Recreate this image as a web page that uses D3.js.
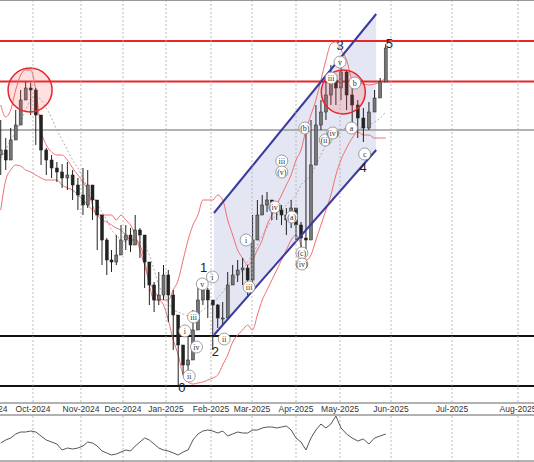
<!DOCTYPE html>
<html><head><meta charset="utf-8">
<script src="https://cdn.jsdelivr.net/npm/d3@7"></script>
<style>body{margin:0;background:#fff}svg{display:block}</style>
</head><body>
<svg id="c" width="534" height="462"></svg>
<script>
// prices sampled every 5px of the chart (~3.4 days), starting Sep 9 2024
const startDate = new Date(2024, 8, 9);
const stepDays = 3.4;
const closes = [250,240,260,275,300,312,310,285,250,240,232,228,222,225,215,205,195,215,200,185,160,140,138,145,160,165,155,170,165,138,115,100,105,125,105,85,55,35,40,70,100,110,100,95,82,82,115,125,130,132,120,160,185,195,200,190,190,185,180,192,175,162,160,235,275,288,305,320,312,328,305,295,282,272,288,302,318,352];
const highs = [280,262,272,290,310,318,317,312,268,252,245,238,236,238,230,222,232,230,215,200,185,162,150,165,175,175,172,185,172,160,135,118,128,135,130,110,80,50,70,90,120,118,112,100,96,98,128,135,140,142,135,185,200,205,208,200,198,195,192,200,190,178,275,280,295,300,320,335,325,335,330,312,300,292,298,310,322,356];
const lows = [225,230,245,262,285,300,285,255,235,225,222,218,212,210,200,190,185,192,180,150,135,125,128,135,148,150,148,155,142,112,95,88,95,100,78,50,15,25,28,55,80,95,82,50,72,75,95,115,118,115,105,110,165,185,188,180,180,175,165,172,160,148,150,180,250,270,280,295,295,300,290,275,262,258,270,290,305,340];
const upperBand = [295,283,290,310,325,330,330,310,270,255,248,245,245,240,232,225,218,210,195,185,185,185,185,180,185,180,175,165,150,135,118,110,102,100,100,110,120,140,160,175,185,200,200,200,205,200,180,165,150,142,135,140,150,160,175,185,195,205,215,225,240,250,270,285,300,320,340,356,358,350,340,320,317,316,315,316,318,322];
const lowerBand = [190,220,230,235,234,230,228,225,222,220,220,220,215,212,210,205,200,195,190,185,180,178,175,172,170,165,160,160,155,140,115,100,100,95,80,60,45,25,18,16,17,18,20,22,25,35,45,58,65,70,75,70,85,100,110,120,130,140,150,160,165,155,140,145,160,175,190,205,225,240,252,262,268,265,265,262,262,262];
const midBand = [242,250,260,268,278,290,300,304,300,292,282,270,260,250,240,232,222,212,205,196,188,180,170,165,160,158,160,160,158,155,145,130,115,105,98,90,88,86,84,84,86,90,94,98,102,108,115,120,125,130,138,145,155,165,172,180,185,190,195,200,205,215,220,225,235,245,255,262,268,270,272,272,272,272,275,278,282,288];
// oscillator, sampled at the same steps (0..44 panel units)
const osc = [17,20,22,26,28,28,29,28,24,20,18,16,10,12,11,12,14,18,17,14,9,7,5,6,8,10,9,14,18,22,20,16,12,10,9,7,5,8,10,20,26,29,30,29,27,29,24,26,28,27,27,30,30,32,33,33,32,33,34,30,22,18,10,22,30,36,32,36,44,32,26,22,19,21,16,22,24,26];

const monthDates = [new Date(2024,8,1),new Date(2024,9,1),new Date(2024,10,1),new Date(2024,11,1),new Date(2025,0,1),new Date(2025,1,1),new Date(2025,2,1),new Date(2025,3,1),new Date(2025,4,1),new Date(2025,5,1),new Date(2025,6,1),new Date(2025,7,1)];
const monthPx = [-11,33,81,123,166,211,252,296,340,391,452,518];
const monthLabels = ["Sep-2024","Oct-2024","Nov-2024","Dec-2024","Jan-2025","Feb-2025","Mar-2025","Apr-2025","May-2025","Jun-2025","Jul-2025","Aug-2025"];

const redLevels = [318.5, 359];
const grayLevel = 270;
const blackLevels = [64, 14];
// channel: [date, price] endpoints
const chanUpper = [[new Date(2025,1,3), 187], [new Date(2025,4,23), 386]];
const chanLower = [[new Date(2025,1,3), 65], [new Date(2025,4,23), 250]];
const circles = [[new Date(2024,8,29), 310], [new Date(2025,4,3), 308]];
const waveBig = [["0",new Date(2025,0,12),8],["1",new Date(2025,0,27),128],["2",new Date(2025,1,4),44],["3",new Date(2025,4,1),350],["4",new Date(2025,4,15),228],["5",new Date(2025,4,31),352]];
const waveSmall = [["i",new Date(2025,0,14),69],["ii",new Date(2025,0,17),24],["iii",new Date(2025,0,20),83],["iv",new Date(2025,0,22),53],["v",new Date(2025,0,26),116],
  ["i",new Date(2025,1,2),123],["ii",new Date(2025,1,10),61],["iii",new Date(2025,1,27),113],["i",new Date(2025,1,25),160],
  ["iii",new Date(2025,2,22),239],["(v)",new Date(2025,2,22),228],["(iv)",new Date(2025,2,17),193],["(a)",new Date(2025,2,29),183],["(b)",new Date(2025,3,7),272],
  ["(c)",new Date(2025,3,5),147],["(iv)",new Date(2025,3,5),136],["(ii)",new Date(2025,3,21),260],["(iv)",new Date(2025,3,26),267],["iii",new Date(2025,3,25),322],["v",new Date(2025,4,1),338],["b",new Date(2025,4,10),317],["a",new Date(2025,4,8),272],["c",new Date(2025,4,16),246]];

const svg = d3.select("#c");
const x = d3.scaleTime().domain(monthDates).range(monthPx);
const y = d3.scaleLinear().domain([0, 400]).range([400, 0]);
const yo = d3.scaleLinear().domain([0, 44]).range([460, 416]);
const dates = closes.map((_, i) => d3.timeHour.offset(startDate, Math.round(i * stepDays * 24)));

svg.append("clipPath").attr("id", "pc").append("rect").attr("x", 0).attr("y", 1).attr("width", 534).attr("height", 402);
const g = svg.append("g").attr("clip-path", "url(#pc)");

// grid
monthDates.forEach(d => {
  svg.append("line").attr("x1", x(d)).attr("x2", x(d)).attr("y1", 0).attr("y2", 462)
    .attr("stroke", "#aaa").attr("stroke-dasharray", "2,2").attr("stroke-width", 0.8);
});

// channel fill
const cu = chanUpper.map(p => [x(p[0]), y(p[1])]);
const cl = chanLower.map(p => [x(p[0]), y(p[1])]);
g.append("path").attr("d", d3.line()([cu[0], cu[1], cl[1], cl[0]]) + "Z").attr("fill", "#e4e6f3");

// horizontal levels
g.append("line").attr("x1", 0).attr("x2", 534).attr("y1", y(grayLevel)).attr("y2", y(grayLevel)).attr("stroke", "#999").attr("stroke-width", 1.5);
redLevels.forEach(v => g.append("line").attr("x1", 0).attr("x2", 534).attr("y1", y(v)).attr("y2", y(v)).attr("stroke", "#e8262a").attr("stroke-width", 2));
blackLevels.forEach(v => g.append("line").attr("x1", 0).attr("x2", 534).attr("y1", y(v)).attr("y2", y(v)).attr("stroke", "#111").attr("stroke-width", 2));

// bands
const bl = d3.line().x((d, i) => x(dates[i])).y(d => y(d)).curve(d3.curveMonotoneX);
g.append("path").attr("d", bl(upperBand)).attr("fill", "none").attr("stroke", "#f07070").attr("stroke-width", 1);
g.append("path").attr("d", bl(lowerBand)).attr("fill", "none").attr("stroke", "#f07070").attr("stroke-width", 1);
g.append("path").attr("d", bl(midBand)).attr("fill", "none").attr("stroke", "#999").attr("stroke-width", 0.8).attr("stroke-dasharray", "2,2");

// candles
closes.forEach((c, i) => {
  const o = i ? closes[i - 1] : c - 5;
  const cx = x(dates[i]);
  g.append("line").attr("x1", cx).attr("x2", cx).attr("y1", y(highs[i])).attr("y2", y(lows[i])).attr("stroke", "#222");
  g.append("rect").attr("x", cx - 1.5).attr("width", 3)
    .attr("y", y(Math.max(o, c))).attr("height", Math.max(1, Math.abs(y(o) - y(c))))
    .attr("fill", c >= o ? "#777" : "#222").attr("stroke", "#222").attr("stroke-width", 0.5);
});

// channel lines
[cu, cl].forEach(l => g.append("line").attr("x1", l[0][0]).attr("y1", l[0][1]).attr("x2", l[1][0]).attr("y2", l[1][1]).attr("stroke", "#3a3aa0").attr("stroke-width", 2));

// circles
circles.forEach(c => g.append("circle").attr("cx", x(c[0])).attr("cy", y(c[1])).attr("r", 22)
  .attr("fill", "rgba(255,80,80,0.18)").attr("stroke", "#e8262a").attr("stroke-width", 1.5));

// wave labels
waveSmall.forEach(w => {
  const cx = x(w[1]), cy = y(w[2]);
  g.append("circle").attr("cx", cx).attr("cy", cy).attr("r", 6).attr("fill", "#fff").attr("stroke", "#888").attr("stroke-width", 0.8);
  g.append("text").attr("x", cx).attr("y", cy + 3).attr("text-anchor", "middle").attr("font-family", "Liberation Serif").attr("font-size", 8).attr("fill", "#333").text(w[0]);
});
waveBig.forEach(w => g.append("text").attr("x", x(w[1])).attr("y", y(w[2])).attr("text-anchor", "middle")
  .attr("font-family", "Liberation Sans").attr("font-size", 13).attr("fill", "#222").text(w[0]));

// borders
svg.append("line").attr("x1", 0).attr("x2", 534).attr("y1", 0.5).attr("y2", 0.5).attr("stroke", "#999");
svg.append("line").attr("x1", 0).attr("x2", 534).attr("y1", 403).attr("y2", 403).attr("stroke", "#999").attr("stroke-width", 1.5);
svg.append("line").attr("x1", 0).attr("x2", 534).attr("y1", 415).attr("y2", 415).attr("stroke", "#999").attr("stroke-width", 1.5);
svg.append("line").attr("x1", 0).attr("x2", 534).attr("y1", 461).attr("y2", 461).attr("stroke", "#999").attr("stroke-width", 1.5);
svg.append("rect").attr("x", 0).attr("y", 404).attr("width", 534).attr("height", 10).attr("fill", "#fff");
monthLabels.forEach((t, i) => svg.append("text").attr("x", monthPx[i]).attr("y", 412).attr("text-anchor", "middle")
  .attr("font-family", "Liberation Sans").attr("font-size", 8.5).attr("fill", "#333").text(t));

// oscillator
svg.append("path").attr("d", d3.line().x((d, i) => x(dates[i])).y(d => yo(d))(osc)).attr("fill", "none").attr("stroke", "#555").attr("stroke-width", 1);
</script>
</body></html>
